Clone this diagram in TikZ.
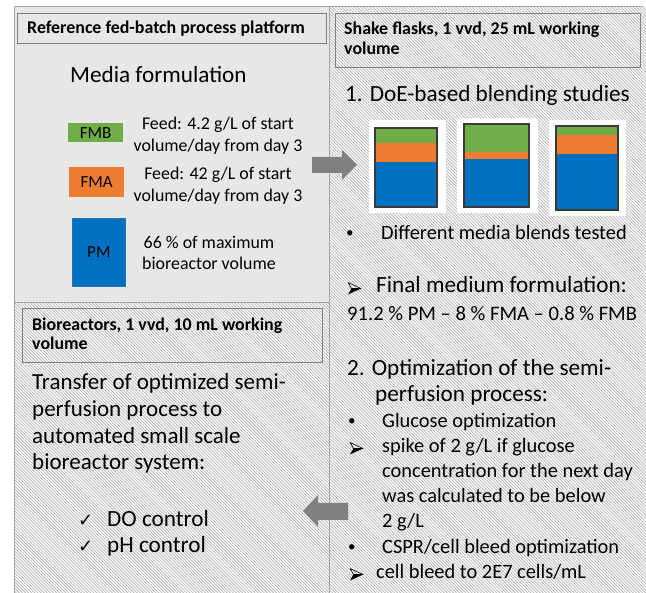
\documentclass[tikz,border=0pt]{standalone}
\usepackage{fontspec}
\setmainfont{Carlito}
\newfontfamily\djv{DejaVu Sans}
\definecolor{panelgray}{HTML}{E7E7E7}
\definecolor{bordergray}{HTML}{A6A6A6}
\definecolor{titlegray}{HTML}{808080}
\definecolor{fmbgreen}{HTML}{70AD47}
\definecolor{fmaorange}{HTML}{ED7D31}
\definecolor{pmblue}{HTML}{0070C0}
\definecolor{arrowgray}{HTML}{808080}
\definecolor{hatchgray}{HTML}{BDBDBD}
\definecolor{bardark}{HTML}{3A3A3A}
\begin{document}
\begin{tikzpicture}[x=1pt,y=-1pt,
  hatchline/.style={draw=hatchgray,line width=0.8pt},
  titlebox/.style={draw=titlegray,line width=1.3pt,anchor=north west,inner sep=0pt},
  ttl/.style={anchor=base west,inner sep=0pt,align=left,font=\bfseries\fontsize{17.9}{19.5}\selectfont},
  big/.style={anchor=base west,inner sep=0pt,align=left,font=\fontsize{23.2}{26}\selectfont},
  med/.style={anchor=base west,inner sep=0pt,align=left,font=\fontsize{20.4}{25}\selectfont},
  sml/.style={anchor=base,inner sep=0pt,align=center,font=\fontsize{17.9}{22}\selectfont},
  glyph/.style={anchor=base west,inner sep=0pt,font=\djv\fontsize{18}{18}\selectfont},
  bul/.style={anchor=base west,inner sep=0pt,font=\fontsize{15}{15}\selectfont},
  swatch/.style={anchor=north west,inner sep=0pt,font=\fontsize{17}{17}\selectfont},
  flaskbg/.style={fill=white,draw=none},
  bar/.style={draw=bardark,line width=1.2pt},
  blockarrow/.style={fill=arrowgray,draw=none},
  arrowbul/.pic={
    \fill[black] (13,-4.5) -- (3.5,-4.5) -- (0,1.5) -- cycle;
    \draw[black,line width=0.6pt,line join=round] (13,-4.5) -- (0,-10.5) -- (3.5,-4.5) -- cycle;
  }
]
\useasboundingbox (0,0) rectangle (646,593);
\begin{scope}
\clip (0,0) rectangle (646,593);
% hatched panels
\begin{scope}
\clip (329,7) rectangle (646,600) (14,303) rectangle (329,600);
\fill[white] (14,7) rectangle (646,600);
\foreach \k in {-200,...,210}{
  \draw[hatchline] ({\k*3.1},0) -- ({\k*3.1+620},620);
}
\end{scope}
\draw[bordergray,line width=1pt] (329,600) -- (329,7) -- (643,7);
\draw[bordergray,line width=1pt] (14,303) -- (14,600);
\draw[bordergray,line width=1pt,fill=panelgray] (14,7) rectangle (329,303);

% ---- top-left panel
\node[titlebox,fill=panelgray,minimum width=309,minimum height=30] (refbox) at (17,13) {};
\node[ttl] (reftitle) at (27,34) {Reference fed-batch process platform};
\node[big] (media) at (70,83) {Media formulation};
\node[swatch,fill=fmbgreen,minimum width=55,minimum height=19] (fmb) at (68,123) {FMB};
\node[swatch,fill=fmaorange,minimum width=55,minimum height=30] (fma) at (69,167) {FMA};
\node[swatch,fill=pmblue,draw=pmblue!70!gray,line width=0.8pt,minimum width=53,minimum height=68] (pm) at (72,218) {PM};
\node[sml] (feedb) at (218,152) {Feed: 4.2 g/L of start\\volume/day from day 3};
\node[sml] (feeda) at (218,202) {Feed: 42 g/L of start\\volume/day from day 3};
\node[sml,font=\fontsize{17.9}{21}\selectfont] (pmtxt) at (209,270) {66 \% of maximum\\bioreactor volume};

% ---- right panel
\node[titlebox,minimum width=305,minimum height=54] (shakebox) at (335,13) {};
\node[ttl,font=\bfseries\fontsize{17.9}{20}\selectfont] (shaketitle) at (344,55) {Shake flasks, 1 vvd, 25 mL working\\volume};
\node[big] (doe) at (345,102) {1. DoE-based blending studies};
% flasks
\fill[flaskbg] (369,120) rectangle (446,213);
\fill[flaskbg] (457,118) rectangle (538,213);
\fill[flaskbg] (549,120) rectangle (626,216);
\fill[fmbgreen] (375,128) rectangle (437,143);
\fill[fmaorange] (375,143) rectangle (437,162);
\fill[pmblue] (375,162) rectangle (437,207);
\draw[bar] (375,128) rectangle (437,207);
\fill[fmbgreen] (464,124) rectangle (529,152);
\fill[fmaorange] (464,152) rectangle (529,159);
\fill[pmblue] (464,159) rectangle (529,207);
\draw[bar] (464,124) rectangle (529,207);
\fill[fmbgreen] (556,126) rectangle (618,135);
\fill[fmaorange] (556,135) rectangle (618,154);
\fill[pmblue] (556,154) rectangle (618,210);
\draw[bar] (556,126) rectangle (618,210);

\node[bul] (b1) at (346,238) {•};
\node[med] (blends) at (381,240) {Different media blends tested};
\pic at (348,293) {arrowbul};
\node[big] (finalf) at (376,293) {Final medium formulation:};
\node[med,font=\fontsize{20.6}{25}\selectfont] (ratio) at (347,321) {91.2 \% PM – 8 \% FMA – 0.8 \% FMB};
\node[big] (opt) at (347,402) {2. Optimization of the semi-\\\hspace*{28pt}perfusion process:};
\node[bul] (b2) at (348,426) {•};
\node[med] (gluc) at (382,428) {Glucose optimization};
\pic at (350,453) {arrowbul};
\node[med] (spike) at (382,528) {spike of 2 g/L if glucose\\concentration for the next day\\was calculated to be below\\2 g/L};
\node[bul] (b3) at (348,552) {•};
\node[med] (cspr) at (382,554) {CSPR/cell bleed optimization};
\pic at (350,579) {arrowbul};
\node[med] (bleed) at (376,579) {cell bleed to 2E7 cells/mL};

% ---- bottom-left panel
\node[titlebox,minimum width=300,minimum height=54] (biobox) at (22,308) {};
\node[ttl,font=\bfseries\fontsize{17.9}{19}\selectfont] (biotitle) at (32,350) {Bioreactors, 1 vvd, 10 mL working\\volume};
\node[big,font=\fontsize{23}{26.7}\selectfont] (transfer) at (32,470) {Transfer of optimized semi-\\perfusion process to\\automated small scale\\bioreactor system:};
\node[glyph] (c1) at (78,527) {✓};
\node[big] (docontrol) at (107,527) {DO control};
\node[glyph] (c2) at (78,553) {✓};
\node[big] (phcontrol) at (107,553) {pH control};

% ---- block arrows
\fill[blockarrow] (312,157) -- (342,157) -- (342,150) -- (357,165) -- (342,180) -- (342,173) -- (312,173) -- cycle;
\fill[blockarrow] (348,503) -- (318,503) -- (318,495) -- (303,511) -- (318,527) -- (318,520) -- (348,520) -- cycle;
\end{scope}
\end{tikzpicture}
\end{document}
